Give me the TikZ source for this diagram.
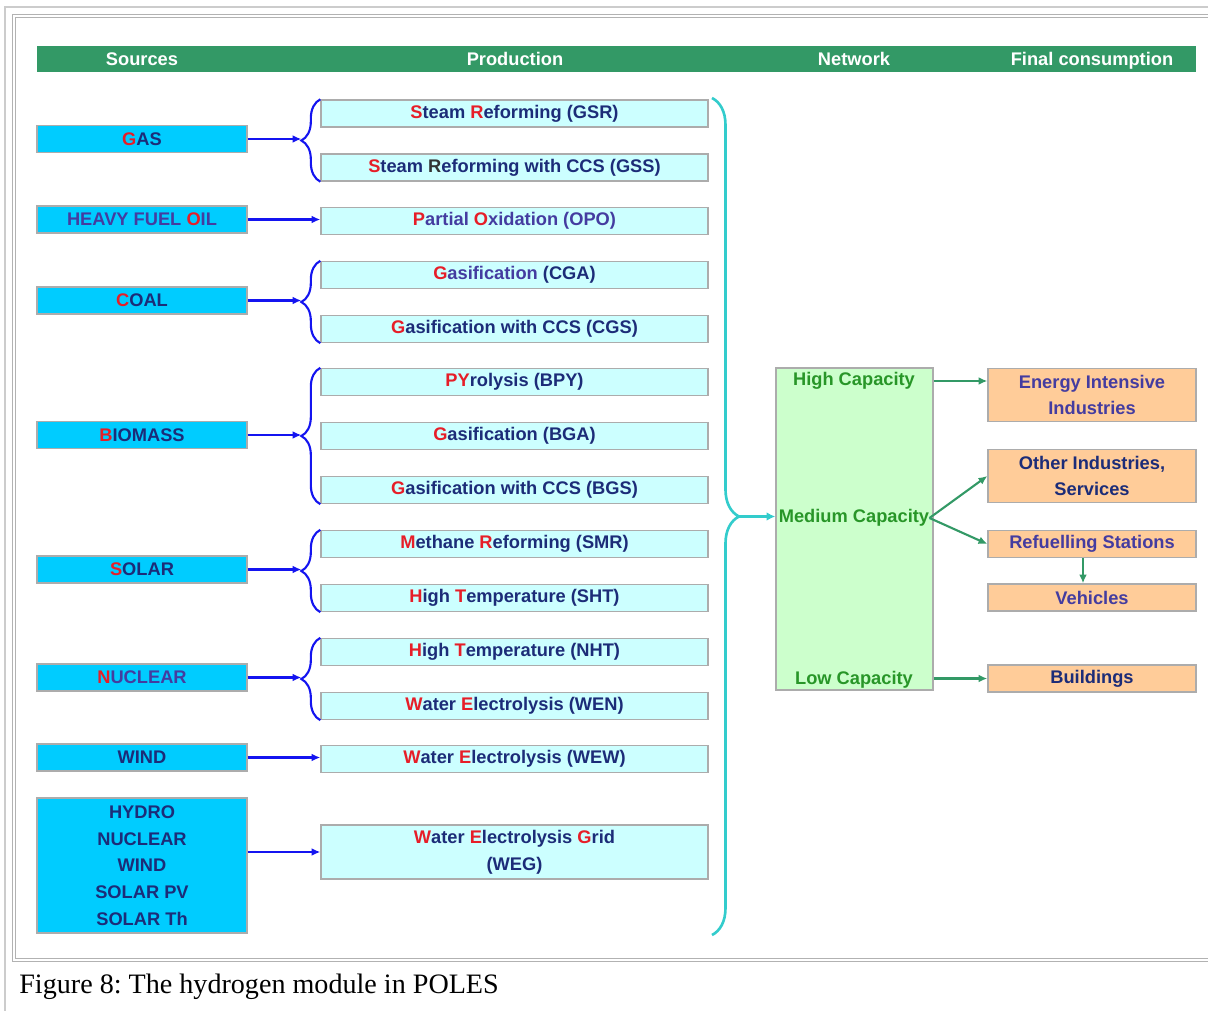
\documentclass[tikz,border=0pt]{standalone}
\usepackage{fontspec}
\setmainfont{Liberation Sans}
\newfontfamily\captionserif{Liberation Serif}
\usetikzlibrary{arrows.meta, calc, decorations.pathreplacing}
\definecolor{hdrgreen}{RGB}{51, 153, 102}
\definecolor{srccyan}{RGB}{0, 204, 255}
\definecolor{prodcyan}{RGB}{204, 255, 255}
\definecolor{netgreen}{RGB}{204, 255, 204}
\definecolor{finorange}{RGB}{255, 204, 153}
\definecolor{navytext}{RGB}{28, 44, 120}
\definecolor{violettext}{RGB}{68, 60, 160}
\definecolor{initred}{RGB}{230, 30, 40}
\definecolor{captext}{RGB}{40, 150, 40}
\definecolor{flowblue}{RGB}{20, 20, 240}
\definecolor{bracecyan}{RGB}{51, 204, 204}
\newcommand{\ri}[1]{\textcolor{initred}{#1}}
\frenchspacing

\begin{document}
\begin{tikzpicture}[x=0.02cm, y=-0.02cm,
  every node/.style={font=\bfseries\fontsize{10.4}{15.2}\selectfont, align=center},
  srcbox/.style={draw=gray!65, line width=0.8pt, fill=srccyan, text=navytext, minimum width=4.2cm, minimum height=0.54cm, inner sep=0pt},
  prodbox/.style={draw=gray!65, line width=0.8pt, fill=prodcyan, text=navytext, minimum width=7.74cm, minimum height=0.54cm, inner sep=0pt},
  finbox/.style={draw=gray!65, line width=0.8pt, fill=finorange, text=navytext, minimum width=4.16cm, minimum height=0.54cm, inner sep=0pt},
  hdrtext/.style={text=white, inner sep=0pt, text height=0.72em, text depth=0.2em},
  captxt/.style={text=captext, inner sep=0pt, text height=0.72em, text depth=0.2em},
  bluearrow/.style={flowblue, line width=1.5pt, -{Latex[length=5pt, width=4.5pt]}},
  greenarrow/.style={hdrgreen, line width=1.2pt, -{Latex[length=5pt, width=4.5pt]}},
  smallbrace/.style={flowblue, line width=1.2pt, decorate, decoration={brace, amplitude=0.38cm}},
  bigbrace/.style={bracecyan, line width=1.5pt, decorate, decoration={brace, amplitude=0.54cm}}
]
  \useasboundingbox (0,0) rectangle (1208,1011);
  \draw[gray!40, line width=0.8pt] (5,1011) -- (5,7) -- (1208,7);
  \draw[gray!60, line width=0.6pt, double, double distance=1.2pt] (1212,16) -- (14,16) -- (14,960) -- (1212,960);

  \node[fill=hdrgreen, minimum width=23.18cm, minimum height=0.52cm, inner sep=0pt] (hdr) at (616.5,59) {};
  \node[hdrtext] (hsrc) at (142,61) {Sources};
  \node[hdrtext] (hprod) at (515,61) {Production};
  \node[hdrtext] (hnet) at (854,61) {Network};
  \node[hdrtext] (hfin) at (1092,61) {Final consumption};

  \node[srcbox] (gas) at (142,139) {\ri{G}AS};
  \node[srcbox, text=violettext] (hfo) at (142,219.5) {HEAVY FUEL \ri{O}IL};
  \node[srcbox] (coal) at (142,300.5) {\ri{C}OAL};
  \node[srcbox] (bio) at (142,435) {\ri{B}IOMASS};
  \node[srcbox] (solar) at (142,569.5) {\ri{S}OLAR};
  \node[srcbox, text=violettext] (nuc) at (142,677.5) {\ri{N}UCLEAR};
  \node[srcbox] (wind) at (142,757.5) {WIND};
  \node[srcbox, minimum height=2.7cm] (multi) at (142,865.5) {HYDRO\\NUCLEAR\\WIND\\SOLAR PV\\SOLAR Th};

  \node[prodbox] (gsr) at (514.5,113.5) {\ri{S}team \ri{R}eforming (GSR)};
  \node[prodbox] (gss) at (514.5,167.5) {\ri{S}team \textcolor{black!80}{R}eforming with CCS (GSS)};
  \node[prodbox, text=violettext] (opo) at (514.5,221) {\ri{P}artial \ri{O}xidation (OPO)};
  \node[prodbox, text=violettext] (cga) at (514.5,275) {\ri{G}asification \textcolor{navytext}{(CGA)}};
  \node[prodbox] (cgs) at (514.5,329) {\ri{G}asification with CCS (CGS)};
  \node[prodbox] (bpy) at (514.5,382) {\ri{PY}rolysis (BPY)};
  \node[prodbox] (bga) at (514.5,436) {\ri{G}asification (BGA)};
  \node[prodbox] (bgs) at (514.5,490) {\ri{G}asification with CCS (BGS)};
  \node[prodbox] (smr) at (514.5,544) {\ri{M}ethane \ri{R}eforming (SMR)};
  \node[prodbox] (sht) at (514.5,598) {\ri{H}igh \ri{T}emperature (SHT)};
  \node[prodbox] (nht) at (514.5,652) {\ri{H}igh \ri{T}emperature (NHT)};
  \node[prodbox] (wen) at (514.5,706) {\ri{W}ater \ri{E}lectrolysis (WEN)};
  \node[prodbox] (wew) at (514.5,759) {\ri{W}ater \ri{E}lectrolysis (WEW)};
  \node[prodbox, minimum height=1.08cm] (weg) at (514.5,852) {\ri{W}ater \ri{E}lectrolysis \ri{G}rid\\(WEG)};

  \node[draw=gray!65, line width=0.8pt, fill=netgreen, minimum width=3.14cm, minimum height=6.44cm, inner sep=0pt] (net) at (854.5,529) {};
  \node[captxt] (hc) at (854,381) {High Capacity};
  \node[captxt] (mc) at (854,518) {Medium Capacity};
  \node[captxt] (lc) at (854,680) {Low Capacity};

  \node[finbox, text=violettext, minimum height=1.06cm] (eii) at (1092,395) {Energy Intensive\\Industries};
  \node[finbox, minimum height=1.06cm] (ois) at (1092,476) {Other Industries,\\Services};
  \node[finbox, text=violettext] (rs) at (1092,544) {Refuelling Stations};
  \node[finbox, text=violettext] (veh) at (1092,597.5) {Vehicles};
  \node[finbox] (bld) at (1092,678.5) {Buildings};

  \draw[smallbrace] (gss.south west) -- (gsr.north west);
  \draw[smallbrace] (cgs.south west) -- (cga.north west);
  \draw[smallbrace] (bgs.south west) -- (bpy.north west);
  \draw[smallbrace] (sht.south west) -- (smr.north west);
  \draw[smallbrace] (wen.south west) -- (nht.north west);
  \coordinate (gastip) at ($(gsr.north west)!.5!(gss.south west)+(-19,0)$);
  \coordinate (coaltip) at ($(cga.north west)!.5!(cgs.south west)+(-19,0)$);
  \coordinate (biotip) at ($(bpy.north west)!.5!(bgs.south west)+(-19,0)$);
  \coordinate (solartip) at ($(smr.north west)!.5!(sht.south west)+(-19,0)$);
  \coordinate (nuctip) at ($(nht.north west)!.5!(wen.south west)+(-19,0)$);

  \draw[bluearrow] (gas.east) -- (gas.east -| gastip);
  \draw[bluearrow] (hfo.east) -- (hfo.east -| opo.west);
  \draw[bluearrow] (coal.east) -- (coal.east -| coaltip);
  \draw[bluearrow] (bio.east) -- (bio.east -| biotip);
  \draw[bluearrow] (solar.east) -- (solar.east -| solartip);
  \draw[bluearrow] (nuc.east) -- (nuc.east -| nuctip);
  \draw[bluearrow] (wind.east) -- (wind.east -| wew.west);
  \draw[bluearrow] (weg.west -| multi.east) -- (weg.west);

  \coordinate (prodtop) at (712,98);
  \coordinate (prodbot) at (712,935);
  \draw[bigbrace] (prodtop) -- (prodbot);
  \coordinate (nettip) at ($(prodtop)!.5!(prodbot)+(27,0)$);
  \draw[bracecyan, line width=1.5pt, -{Latex[length=5pt, width=5pt]}] (nettip) -- (nettip -| net.west);

  \draw[greenarrow] (net.east |- hc.east) -- (eii.west |- hc.east);
  \draw[greenarrow] (mc.east) -- (ois.west);
  \draw[greenarrow] (mc.east) -- (rs.west);
  \draw[greenarrow] ([xshift=-0.18cm]rs.south) -- ([xshift=-0.18cm]veh.north);
  \draw[greenarrow] (net.east |- bld.west) -- (bld.west);

  \node[anchor=west, inner sep=0pt, font=\captionserif\fontsize{16}{18}\selectfont] (caption) at (19,987) {Figure 8: The hydrogen module in POLES};
\end{tikzpicture}
\end{document}
